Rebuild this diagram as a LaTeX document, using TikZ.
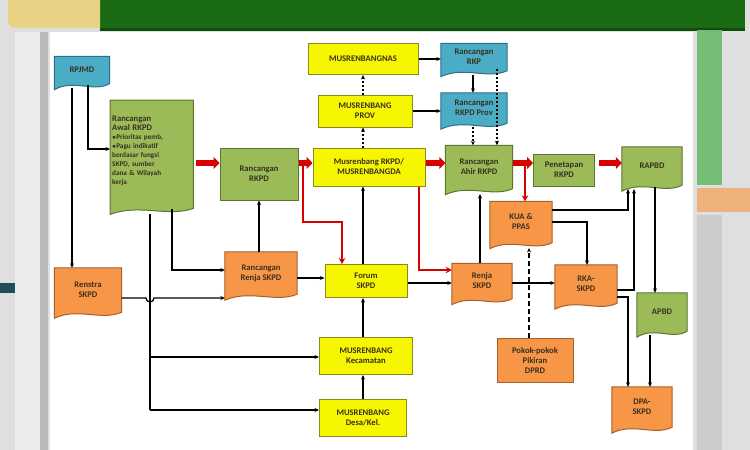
\documentclass[tikz,border=0pt]{standalone}
\usepackage{fontspec}
\setmainfont{Carlito}
\usetikzlibrary{calc,arrows.meta,backgrounds}
\pgfdeclarelayer{slide}
\pgfsetlayers{slide,background,main}
\definecolor{yel}{HTML}{F6F600}\definecolor{yelb}{HTML}{8A8A20}
\definecolor{grn}{HTML}{9BBB59}\definecolor{grnb}{HTML}{5E7530}
\definecolor{org}{HTML}{F79646}\definecolor{orgb}{HTML}{A8602A}
\definecolor{blu}{HTML}{4BACC6}\definecolor{blub}{HTML}{2F6F82}
\definecolor{txt}{HTML}{3A3020}\definecolor{hdr}{HTML}{1B6A14}
\tikzset{
 base/.style={inner sep=1pt,align=center,text=txt,font=\fontsize{8.6}{10}\selectfont\bfseries},
 box/.style={base,draw=yelb,fill=yel,line width=1pt},
 gbox/.style={base,draw=grnb,fill=grn,line width=1pt},
 doc/.style={base},
 ar/.style={line width=1.3pt,-{Stealth[length=4.5pt,width=4pt]}},
 dar/.style={ar,dash pattern=on 2pt off 2pt},
 dsh/.style={ar,dash pattern=on 5pt off 3pt},
 red/.style={draw=red!85!black,line width=2.4pt,-{Stealth[length=6pt,width=6.5pt]}},
 big/.style={draw=red!85!black,line width=5.5pt,-{Triangle[length=6pt,width=12pt]}},
}
\newcommand\dshape[3]{\path let \p1=(#1.north west), \p2=(#1.south east), \n1={\x2-\x1} in
 [fill=#2,draw=#3,line width=1pt] (\x1,\y1) -- (\x2,\y1) -- (\x2,\y2)
 .. controls ($(\x2,\y2)+(-0.3*\n1,-9pt)$) and ($(\x1,\y2)+(0.35*\n1,5pt)$) .. ($(\x1,\y2)+(0,-6pt)$) -- cycle;}
\begin{document}
\begin{tikzpicture}[x=1pt,y=-1pt]
\useasboundingbox (0,0) rectangle (750,450);
\begin{pgfonlayer}{slide}
\fill[gray!25] (0,0) rectangle (750,450);
\fill[hdr] (100,0) rectangle (745,30);
\fill[hdr!70!black] (100,28) rectangle (745,31);
\fill[yellow!40!brown!60!white] (8,0) -- (100,0) -- (100,28) -- (15,28) to[out=180,in=-90] (8,20) -- cycle;
\fill[gray!15] (15,32) rectangle (40,450);
\fill[gray!55] (40,32) rectangle (48,450);
\fill[blub!70!black] (0,283) rectangle (15,293);
\fill[white] (50,32) rectangle (693,450);
\fill[green!35!gray!80] (697,30) rectangle (722,185);
\fill[orange!50!brown!60] (697,188) rectangle (750,212);
\fill[gray!40] (697,215) rectangle (722,450);
\end{pgfonlayer}
% nodes
\node[doc,minimum width=55,minimum height=27] (rpjmd) at (82,70) {RPJMD};
\node[doc,minimum width=83,minimum height=108,align=left,text width=79,anchor=north west,
  font=\fontsize{7.2}{9}\selectfont\bfseries] (awal) at (110,100) {{\fontsize{8.6}{10}\selectfont Rancangan\\Awal RKPD}\\$\bullet$Prioritas pemb,\\$\bullet$Pagu indikatif\\berdasar fungsi\\SKPD, sumber\\dana \& Wilayah\\kerja\\[-2pt]\mbox{}};
\node[gbox,minimum width=78,minimum height=52] (rrkpd) at (259,174) {Rancangan\\RKPD};
\node[doc,minimum width=67,minimum height=44] (renstra) at (88,290) {Renstra\\SKPD};
\node[doc,minimum width=72,minimum height=42] (rrenja) at (261,273) {Rancangan\\Renja SKPD};
\node[box,minimum width=110,minimum height=31] (nas) at (363,59) {MUSRENBANGNAS};
\node[doc,minimum width=66,minimum height=27] (rkp) at (474,57) {Rancangan\\RKP};
\node[box,minimum width=94,minimum height=32] (prov) at (365,111) {MUSRENBANG\\PROV};
\node[doc,minimum width=66,minimum height=30] (rkpdprov) at (474,108) {Rancangan\\RKPD Prov};
\node[box,minimum width=112,minimum height=38] (musda) at (369,167) {Musrenbang RKPD/\\MUSRENBANGDA};
\node[doc,minimum width=67,minimum height=43] (ahir) at (479,167) {Rancangan\\Ahir RKPD};
\node[gbox,minimum width=61,minimum height=32] (penet) at (564,170) {Penetapan\\RKPD};
\node[doc,minimum width=60,minimum height=38] (rapbd) at (652,166) {RAPBD};
\node[doc,minimum width=62,minimum height=41] (kua) at (521,222) {KUA \&\\PPAS};
\node[box,minimum width=82,minimum height=33] (forum) at (366,281) {Forum\\SKPD};
\node[doc,minimum width=60,minimum height=35] (renja) at (482,281) {Renja\\SKPD};
\node[doc,minimum width=62,minimum height=38] (rka) at (586,284) {RKA-\\SKPD};
\node[doc,minimum width=50,minimum height=38] (apbd) at (662,312) {APBD};
\node[box,minimum width=93,minimum height=37] (kec) at (366,356) {MUSRENBANG\\Kecamatan};
\node[doc,draw=orgb,fill=org,line width=1pt,minimum width=76,minimum height=44] (pokok) at (535,360) {Pokok-pokok\\Pikiran\\DPRD};
\node[box,minimum width=87,minimum height=37] (desa) at (363,418) {MUSRENBANG\\Desa/Kel.};
\node[doc,minimum width=60,minimum height=40] (dpa) at (642,407) {DPA-\\SKPD};
\begin{scope}[on background layer]
\dshape{rpjmd}{blu}{blub}\dshape{rkp}{blu}{blub}\dshape{rkpdprov}{blu}{blub}
\dshape{awal}{grn}{grnb}\dshape{ahir}{grn}{grnb}\dshape{rapbd}{grn}{grnb}\dshape{apbd}{grn}{grnb}
\dshape{renstra}{org}{orgb}\dshape{rrenja}{org}{orgb}\dshape{kua}{org}{orgb}
\dshape{renja}{org}{orgb}\dshape{rka}{org}{orgb}\dshape{dpa}{org}{orgb}
\end{scope}
% black connectors
\draw[ar] (rpjmd.south -| 72,0)++(0,4) -- (renstra.north -| 72,0);
\draw[ar] (rpjmd.south -| 88,0)++(0,1) |- (awal.west |- 0,149);
\draw[ar] (awal.south -| 172,0)++(0,1) |- (rrenja.west |- 0,270);
\draw[line width=1.3pt] (awal.south -| 150,0)++(0,6) -- (150,410);
\draw[ar] (150,357) -- (kec.west |- 0,357);
\draw[ar] (150,410) -- (desa.west |- 0,410);
\draw[ar] (renstra.east |- 0,298) -- (146,298) arc[start angle=180,end angle=0,radius=4] -- (rrenja.west |- 0,298);
\draw[ar] (rrenja.north -| 259,0) -- (rrkpd.south -| 259,0);
\draw[ar] (rrenja.east |- 0,278) -- (forum.west |- 0,278);
\draw[ar] (forum.north -| 363,0) -- (musda.south -| 363,0);
\draw[ar] (kec.north -| 363,0) -- (forum.south -| 363,0);
\draw[ar] (desa.north -| 363,0) -- (kec.south -| 363,0);
\draw[dar] (musda.north -| 363,0) -- (prov.south -| 363,0);
\draw[dar] (prov.north -| 363,0) -- (nas.south -| 363,0);
\draw[ar] (nas.east) -- (rkp.west |- nas.east);
\draw[ar] (prov.east) -- (rkpdprov.west |- prov.east);
\draw[ar] (rkp.south -| 473,0)++(0,4) -- (rkpdprov.north -| 473,0);
\draw[dar] (rkpdprov.south -| 473,0)++(0,4) -- (ahir.north -| 473,0);
\draw[dar] (rkp.south -| 497,0)++(0,-2) -- (ahir.north -| 497,0);
\draw[ar] (renja.north -| 480,0) -- (480,194);
\draw[ar] (forum.east |- 0,283) -- (renja.west |- 0,283);
\draw[ar] (renja.east |- 0,283) -- (rka.west |- 0,283);
\draw[dsh] (pokok.north -| 529,0) -- (529,248);
\draw[ar] (kua.east |- 0,210) -| (628,189);
\draw[ar] (kua.east |- 0,222) -| (rka.north -| 587,0);
\draw[ar] (rka.east |- 0,290) -| (634,189);
\draw[ar] (rka.east |- 0,297) -| (dpa.north -| 628,0);
\draw[ar] (655,187) -- (apbd.north -| 655,0);
\draw[ar] (apbd.south -| 650,0)++(0,4) -- (dpa.north -| 650,0);
% red connectors
\draw[big] (awal.east |- 0,163)++(3,0) -- (rrkpd.west |- 0,163);
\draw[big] (rrkpd.east |- 0,163) -- (musda.west |- 0,163);
\draw[big] (musda.east |- 0,163) -- (ahir.west |- 0,163);
\draw[big] (ahir.east |- 0,163) -- (penet.west |- 0,163);
\draw[big] (penet.east |- 0,163)++(4,0) -- (rapbd.west |- 0,163);
\draw[red] (525,163) -- (kua.north -| 525,0);
\draw[red] (303,163) |- (342,222) -- (forum.north -| 342,0);
\draw[red] (musda.south -| 419,0) |- (renja.west |- 0,270);
\end{tikzpicture}
\end{document}
